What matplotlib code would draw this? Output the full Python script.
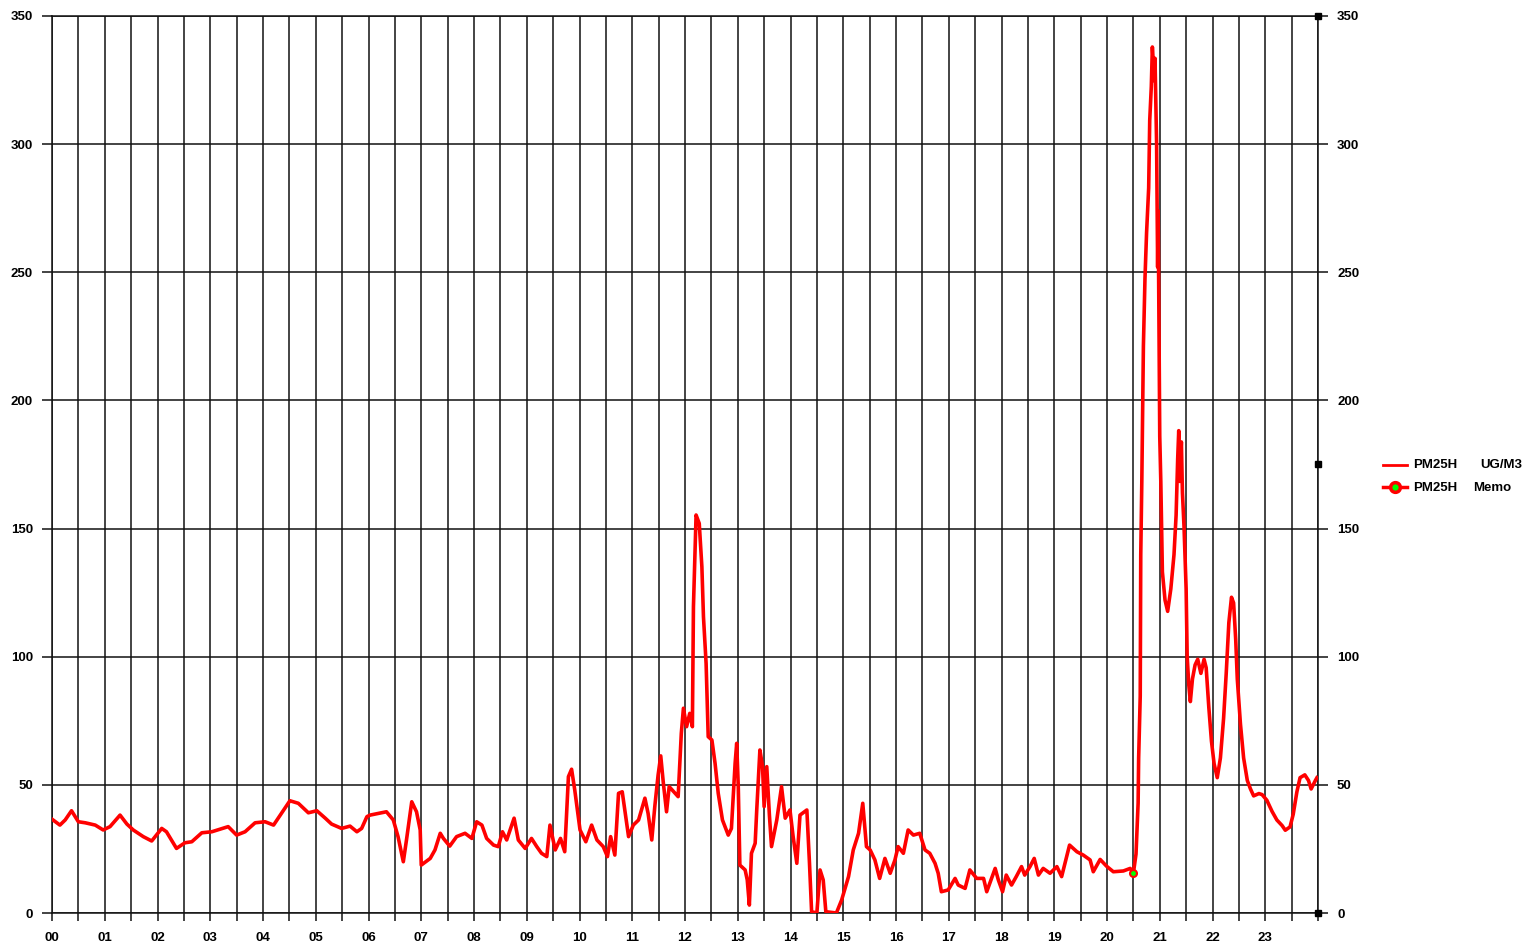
import numpy as np
import matplotlib
matplotlib.use('Agg')
import matplotlib.pyplot as plt
from matplotlib.lines import Line2D

# PM2.5 values, hour of day -> ug/m3
hours_a = [0.00, 0.15, 0.25, 0.37, 0.50, 0.63, 0.82, 0.97, 1.10, 1.29,
           1.42, 1.54, 1.73, 1.89, 2.08, 2.17, 2.36, 2.52, 2.65, 2.84,
           3.03, 3.34, 3.50, 3.66, 3.85, 4.04, 4.20, 4.35, 4.51, 4.67,
           4.86, 5.02, 5.18, 5.30, 5.49, 5.65, 5.78, 5.87, 5.97]
pm25_a = [36.6, 34.3, 36.3, 39.9, 35.6, 35.2, 34.3, 32.4, 33.7, 38.2,
          34.7, 32.4, 29.8, 28.1, 33.0, 31.7, 25.2, 27.4, 27.8, 31.3,
          31.7, 33.7, 30.4, 31.7, 35.2, 35.6, 34.3, 38.9, 43.8, 42.8,
          39.1, 39.9, 37.0, 34.7, 33.0, 33.9, 31.7, 33.0, 37.6]

hours_b = [6.03, 6.34, 6.47, 6.56, 6.66, 6.72, 6.82, 6.91, 6.98, 7.00,
           7.17, 7.26, 7.36, 7.42, 7.54, 7.67, 7.83, 7.96, 8.05, 8.15,
           8.24, 8.37, 8.46, 8.54, 8.62, 8.76, 8.84, 8.97, 9.09, 9.19,
           9.28, 9.38, 9.44, 9.54, 9.64, 9.72, 9.79, 9.85, 9.91, 10.01,
           10.12, 10.23, 10.33, 10.45, 10.53, 10.59, 10.67, 10.74, 10.81, 10.93,
           11.02, 11.12, 11.24, 11.30, 11.37, 11.43, 11.49, 11.54, 11.59, 11.65,
           11.70]
pm25_b = [38.2, 39.5, 36.3, 29.8, 20.0, 28.5, 43.4, 39.5, 32.4, 18.7,
          21.3, 24.6, 31.1, 29.1, 26.1, 29.8, 31.1, 29.1, 35.6, 34.3,
          29.1, 26.5, 25.9, 31.7, 28.5, 37.0, 28.5, 25.2, 29.1, 25.9,
          23.3, 22.0, 34.3, 24.6, 29.1, 23.9, 53.2, 56.1, 48.0, 32.4,
          27.8, 34.3, 28.5, 25.9, 22.0, 29.8, 22.6, 46.7, 47.3, 29.8,
          34.3, 36.3, 44.8, 38.9, 28.5, 42.1, 53.8, 61.3, 50.6, 39.5,
          49.3]

hours_c = [11.87, 11.93, 11.97, 12.03, 12.09, 12.14, 12.16, 12.21, 12.27, 12.32,
           12.35, 12.40, 12.44, 12.51, 12.57, 12.63, 12.71, 12.82, 12.88, 12.95,
           12.98, 13.01, 13.04, 13.14, 13.18, 13.22, 13.26, 13.33, 13.36, 13.42,
           13.47, 13.50, 13.55, 13.60, 13.64, 13.74, 13.83, 13.90, 13.99, 14.05,
           14.12, 14.18, 14.31, 14.36, 14.40, 14.50, 14.56, 14.62, 14.67, 14.87,
           14.97, 15.10, 15.19, 15.29, 15.37, 15.44]
pm25_c = [45.4, 70.1, 79.9, 72.7, 77.9, 72.7, 119.5, 155.3, 152.0, 135.1,
          115.6, 97.4, 68.8, 67.5, 58.4, 46.7, 36.3, 30.4, 33.0, 58.4,
          66.2, 49.3, 18.7, 16.8, 12.9, 3.1, 23.3, 27.2, 40.2, 63.6,
          57.1, 41.5, 57.1, 38.2, 25.9, 36.3, 49.3, 37.0, 40.2, 29.8,
          19.4, 38.2, 40.2, 19.4, 0.5, 0.0, 16.8, 12.9, 0.5, 0.0,
          5.1, 14.2, 24.6, 31.1, 42.8, 25.9]

hours_d = [15.51, 15.60, 15.69, 15.79, 15.89, 15.98, 16.04, 16.14, 16.23, 16.33,
           16.45, 16.55, 16.64, 16.74, 16.80, 16.86, 16.99, 17.12, 17.18, 17.31,
           17.40, 17.53, 17.66, 17.72, 17.88, 17.94, 18.02, 18.09, 18.19, 18.28,
           18.38, 18.44, 18.54, 18.62, 18.70, 18.79, 18.92, 19.05, 19.14, 19.29,
           19.43, 19.55, 19.68, 19.74, 19.87, 19.99, 20.12, 20.31, 20.44, 20.50]
pm25_d = [24.6, 20.7, 13.5, 21.3, 15.5, 20.7, 25.9, 23.3, 32.4, 30.4,
          31.1, 24.6, 23.3, 19.4, 15.5, 8.3, 9.0, 13.5, 10.9, 9.6,
          16.8, 13.5, 13.5, 8.3, 17.4, 12.9, 8.3, 14.8, 10.9, 14.2,
          18.1, 14.8, 18.1, 21.3, 14.8, 17.4, 15.5, 18.1, 14.2, 26.5,
          23.9, 22.6, 20.7, 16.1, 20.9, 18.3, 16.1, 16.4, 17.4, 15.5]

hours_e = [20.55, 20.59, 20.60, 20.63, 20.64, 20.66, 20.69, 20.72, 20.75, 20.79,
           20.81, 20.84, 20.86, 20.90, 20.91, 20.94, 20.96, 20.97, 20.99, 21.00,
           21.02, 21.05, 21.10, 21.15, 21.21, 21.27, 21.31, 21.34, 21.36, 21.38,
           21.41, 21.43, 21.46, 21.50, 21.52, 21.55, 21.58, 21.62, 21.67, 21.72,
           21.78, 21.84, 21.88, 21.93, 21.98, 22.03, 22.09, 22.15, 22.21, 22.26,
           22.31, 22.36, 22.40, 22.44, 22.47, 22.53, 22.59, 22.66, 22.72, 22.78,
           22.88, 22.94, 23.03, 23.13, 23.22, 23.32, 23.38, 23.47, 23.53, 23.60,
           23.66, 23.75, 23.82, 23.87, 23.95, 23.98]
pm25_e = [23.0, 42.9, 60.5, 84.7, 139.8, 168.4, 221.2, 247.6, 265.3, 282.9,
          309.3, 322.5, 337.9, 324.7, 333.5, 300.5, 252.0, 274.0, 212.5, 186.0,
          168.4, 133.1, 122.1, 117.7, 126.5, 139.8, 155.2, 177.2, 188.2, 168.4,
          183.8, 164.0, 150.8, 126.5, 100.1, 89.1, 82.5, 91.3, 96.8, 99.0,
          93.5, 99.0, 95.7, 80.3, 67.1, 58.3, 52.8, 60.5, 75.9, 93.5,
          113.3, 123.2, 121.0, 106.7, 91.3, 73.7, 60.5, 51.7, 48.4, 45.7,
          46.6, 46.2, 44.0, 39.6, 36.3, 34.1, 32.3, 33.6, 38.5, 47.3,
          52.8, 53.9, 51.7, 48.4, 51.7, 52.8]

hours = hours_a + hours_b + hours_c + hours_d + hours_e
pm25 = pm25_a + pm25_b + pm25_c + pm25_d + pm25_e

memo_hour = [20.5]
memo_value = [15.5]

y_ticks = [0, 50, 100, 150, 200, 250, 300, 350]
hour_labels = ['%02d' % h for h in range(24)]

plt.rcParams['font.family'] = ['Liberation Sans', 'DejaVu Sans']
plt.rcParams['font.weight'] = 'bold'
plt.rcParams['font.size'] = 9.5

W, H = 1524, 947
fig = plt.figure(figsize=(W / 100, H / 100), dpi=100)
ax = fig.add_axes([52 / W, 1 - 913 / H, (1318 - 52) / W, (913 - 16) / H])

grid_col = '#111111'
ax.plot(hours, pm25, color='#ff0000', lw=2.6, zorder=3)
ax.plot(memo_hour, memo_value, 'o', mfc='#00ff00', mec='#ff0000', ms=5, mew=1.5, zorder=4)

ax.set_xlim(0, 24)
ax.set_ylim(0, 350)
x_ticks = np.arange(0, 24.01, 0.5)
ax.set_xticks(x_ticks)
ax.set_xticklabels([hour_labels[int(t)] if t == int(t) and t < 24 else '' for t in x_ticks])
ax.set_yticks(y_ticks)

ax.grid(True, color=grid_col, lw=1.1, zorder=1)
for s in ax.spines.values():
    s.set_color(grid_col)
    s.set_linewidth(1.1)

ax.tick_params(axis='y', left=True, right=True, labelleft=True, labelright=True,
               length=7.2, width=1.1, color=grid_col, pad=6.5)
ax.tick_params(axis='x', length=5.8, width=1.1, color=grid_col, pad=8)

# small handles on the right edge
ax.plot([24, 24, 24], [0, 175, 350], 's', color='black', ms=5, clip_on=False, zorder=5)

# legend drawn by hand at the right
y1 = 1 - 465 / H
y2 = 1 - 487.5 / H
fig.add_artist(Line2D([1383 / W, 1407 / W], [y1, y1], transform=fig.transFigure,
                      color='#ff0000', lw=2))
fig.add_artist(Line2D([1383 / W, 1407 / W], [y2, y2], transform=fig.transFigure,
                      color='#ff0000', lw=2.5))
fig.add_artist(Line2D([1395 / W], [y2], transform=fig.transFigure, marker='o',
                      mfc='#00ff00', mec='#ff0000', ms=7, mew=2.5))
fig.text(1413 / W, y1, 'PM25H', va='center', ha='left')
fig.text(1480 / W, y1, 'UG/M3', va='center', ha='left')
fig.text(1413 / W, y2, 'PM25H', va='center', ha='left')
fig.text(1473 / W, y2, 'Memo', va='center', ha='left')

fig.savefig('out.png', dpi=100)
